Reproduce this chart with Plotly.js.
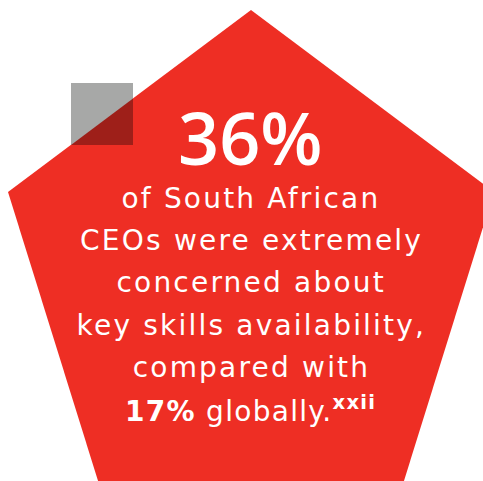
<!DOCTYPE html>
<html><head><meta charset="utf-8">
<script src="https://cdn.plot.ly/plotly-3.0.1.min.js"></script>
<style>html,body{margin:0;padding:0;background:#fff;}#c{width:483px;height:481px;}</style>
</head><body><div id="c"></div>
<script>
const headlineValue = 36;
const globalValue = 17;
const bodyLines = ["of South African", "CEOs were extremely", "concerned about", "key skills availability,", "compared with"];
const footnote = "xxii";

const RED = "#ee2e24", GREY = "#a7a8a7", DARK = "#9e1f19";
const HFONT = "'Open Sans', sans-serif";
const FONT = "'DejaVu Sans', sans-serif";

const shapes = [
  {type:"path", path:"M 251 10 L 494 192 L 398 500 L 104 500 L 8 192 Z", fillcolor:RED, line:{width:0}, layer:"below"},
  {type:"rect", x0:71, x1:133, y0:83, y1:145, fillcolor:GREY, line:{width:0}},
  {type:"path", path:"M 71 145 L 133 98.4 L 133 145 Z", fillcolor:DARK, line:{width:0}}
];

const ann = [];
ann.push({x:250, y:137, xref:"x", yref:"y", yanchor:"middle", showarrow:false,
  text:headlineValue+"%", font:{family:HFONT, size:72, color:"#fff", weight:600}});
const baselines = [208, 250, 292, 335, 377];
bodyLines.forEach((t,i)=>{
  ann.push({x:251, y:baselines[i]-10, xref:"x", yref:"y", yanchor:"middle", showarrow:false,
    text:t, font:{family:FONT, size:28, color:"#fff", weight:400}});
});
ann.push({x:250, y:419-10, xref:"x", yref:"y", yanchor:"middle", showarrow:false,
  text:"<b>"+globalValue+"%</b> globally.<sup><b>"+footnote+"</b></sup>", font:{family:FONT, size:28, color:"#fff", weight:400}});

Plotly.newPlot("c", [{x:[0,483], y:[0,481], mode:"markers", marker:{opacity:0}, hoverinfo:"skip", showlegend:false}], {
  width:483, height:481, margin:{l:0,r:0,t:0,b:0},
  paper_bgcolor:"#fff", plot_bgcolor:"#fff",
  xaxis:{range:[0,483], visible:false, fixedrange:true},
  yaxis:{range:[481,0], visible:false, fixedrange:true},
  shapes:shapes, annotations:ann, showlegend:false
}, {staticPlot:true, displayModeBar:false}).then(()=>{
  const txt = document.querySelectorAll('#c .annotation-text');
  txt.forEach((el,i)=>{ if(i>0) el.style.letterSpacing = (i===txt.length-1) ? '1.3px' : '2.2px'; });
});
</script></body></html>
